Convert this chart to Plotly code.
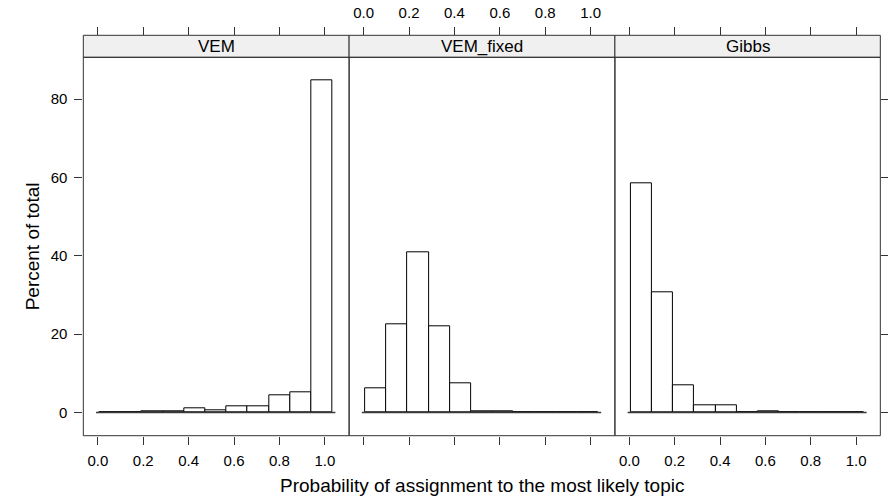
import plotly.graph_objects as go

# ---- data ----
panels = ["VEM", "VEM_fixed", "Gibbs"]
bin_edges = [0.006, 0.0995, 0.193, 0.2865, 0.38, 0.4735, 0.567, 0.6605, 0.754, 0.8475, 0.941, 1.0345]
vem = [0.0, 0.0, 0.2, 0.2, 1.1, 0.5, 1.7, 1.7, 4.3, 5.2, 84.75]
vem_fixed = [6.3, 22.6, 40.8, 22.05, 7.4, 0.25, 0.25, 0.0, 0.0, 0.0, 0.0]
gibbs = [58.6, 30.7, 6.9, 1.8, 1.8, 0.0, 0.3, 0.0, 0.0, 0.0, 0.0]
x_tick_vals = [0.0, 0.2, 0.4, 0.6, 0.8, 1.0]
x_tick_text = ["0.0", "0.2", "0.4", "0.6", "0.8", "1.0"]
y_tick_vals = [0, 20, 40, 60, 80]
y_tick_text = ["0", "20", "40", "60", "80"]
x_title = "Probability of assignment to the most likely topic"
y_title = "Percent of total"

# ---- layout geometry (pixels) ----
W, H = 888, 498
panel_px = [(83.7, 350.7), (350.7, 617.7), (617.7, 884.3)]
panel_top, panel_bot = 57.3, 435.7
strip_top = 35.3
xr = [-0.064, 1.107]
yr = [-5.93, 90.68]

def px(x):
    return x / W

def py(y):
    return 1 - y / H

FONT = "Liberation Sans, Arial, Helvetica, sans-serif"
BORDER = "#333333"
series = [vem, vem_fixed, gibbs]

fig = go.Figure()
centers = [(bin_edges[i] + bin_edges[i + 1]) / 2 for i in range(len(bin_edges) - 1)]
widths = [bin_edges[i + 1] - bin_edges[i] for i in range(len(bin_edges) - 1)]

for k, vals in enumerate(series):
    xa = "x" if k == 0 else f"x{k+1}"
    ya = "y" if k == 0 else f"y{k+1}"
    fig.add_trace(go.Scatter(x=[bin_edges[0] - 0.014, bin_edges[-1] + 0.012], y=[0, 0],
                             mode="lines", line=dict(color="#3a3a3a", width=1.6),
                             xaxis=xa, yaxis=ya, hoverinfo="skip", showlegend=False))
    fig.add_trace(go.Bar(x=centers, y=vals, width=widths,
                         marker=dict(color="white", line=dict(color="black", width=1)),
                         xaxis=xa, yaxis=ya, showlegend=False))

# invisible traces for the extra (overlay) axes
for k, xa in enumerate(["x4", "x5", "x6"]):
    ya = "y" if k == 0 else f"y{k+1}"
    fig.add_trace(go.Scatter(x=[0.5], y=[0], mode="markers", marker=dict(opacity=0),
                             xaxis=xa, yaxis=ya, hoverinfo="skip", showlegend=False))
fig.add_trace(go.Scatter(x=[0.5], y=[0], mode="markers", marker=dict(opacity=0),
                         xaxis="x3", yaxis="y4", hoverinfo="skip", showlegend=False))

tickfont = dict(family=FONT, size=15, color="black")
common_x = dict(range=xr, showgrid=False, zeroline=False, showline=False,
                tickvals=x_tick_vals, ticktext=x_tick_text, ticks="outside",
                ticklen=8, tickwidth=1, tickcolor=BORDER, tickfont=tickfont)
common_y = dict(range=yr, showgrid=False, zeroline=False, showline=False,
                domain=[py(panel_bot), py(panel_top)])

layout = dict(width=W, height=H, margin=dict(l=0, r=0, t=0, b=0),
              paper_bgcolor="white", plot_bgcolor="white", bargap=0,
              font=dict(family=FONT, size=15, color="black"))

for k in range(3):
    sx = "" if k == 0 else str(k + 1)
    d = [px(panel_px[k][0]), px(panel_px[k][1])]
    layout[f"xaxis{sx}"] = dict(common_x, domain=d, anchor="y" if k == 0 else f"y{k+1}",
                                side="bottom", showticklabels=(k != 1), ticklabelstandoff=3)
    yd = dict(common_y, anchor="x" if k == 0 else f"x{k+1}")
    if k == 0:
        yd.update(tickvals=y_tick_vals, ticktext=y_tick_text, ticks="outside", ticklen=8,
                  tickwidth=1, tickcolor=BORDER, tickfont=tickfont, ticklabelstandoff=4)
    else:
        yd.update(showticklabels=False, ticks="")
    layout[f"yaxis{sx}"] = yd
    top = dict(common_x, overlaying="x" if k == 0 else f"x{k+1}", anchor="free",
               position=py(strip_top), side="top", showticklabels=(k == 1), ticklabelstandoff=3)
    layout[f"xaxis{k+4}"] = top

layout["yaxis4"] = dict(range=yr, showgrid=False, zeroline=False, showline=False,
                        overlaying="y3", side="right", anchor="x3",
                        tickvals=y_tick_vals, ticks="outside", ticklen=8, tickwidth=1,
                        tickcolor=BORDER, showticklabels=False)

shapes = []
annotations = []
for k in range(3):
    x0, x1 = px(panel_px[k][0]), px(panel_px[k][1])
    shapes.append(dict(type="rect", xref="paper", yref="paper", x0=x0, x1=x1,
                       y0=py(panel_top), y1=py(strip_top), fillcolor="#f0f0f0",
                       line=dict(color=BORDER, width=1), layer="above"))
    shapes.append(dict(type="rect", xref="paper", yref="paper", x0=x0, x1=x1,
                       y0=py(panel_bot), y1=py(panel_top), fillcolor="rgba(0,0,0,0)",
                       line=dict(color=BORDER, width=1), layer="above"))
    annotations.append(dict(text=panels[k], xref="paper", yref="paper",
                            x=(x0 + x1) / 2, y=py((strip_top + panel_top) / 2),
                            showarrow=False, xanchor="center", yanchor="middle",
                            font=dict(family=FONT, size=17, color="black")))

annotations.append(dict(text=x_title, xref="paper", yref="paper",
                        x=px((panel_px[0][0] + panel_px[2][1]) / 2), y=py(485),
                        showarrow=False, xanchor="center", yanchor="middle",
                        font=dict(family=FONT, size=19, color="black")))
annotations.append(dict(text=y_title, xref="paper", yref="paper",
                        x=px(33), y=py((panel_top + panel_bot) / 2), textangle=-90,
                        showarrow=False, xanchor="center", yanchor="middle",
                        font=dict(family=FONT, size=19, color="black")))

layout["shapes"] = shapes
layout["annotations"] = annotations
fig.update_layout(**layout)
fig.write_html("out.html")
